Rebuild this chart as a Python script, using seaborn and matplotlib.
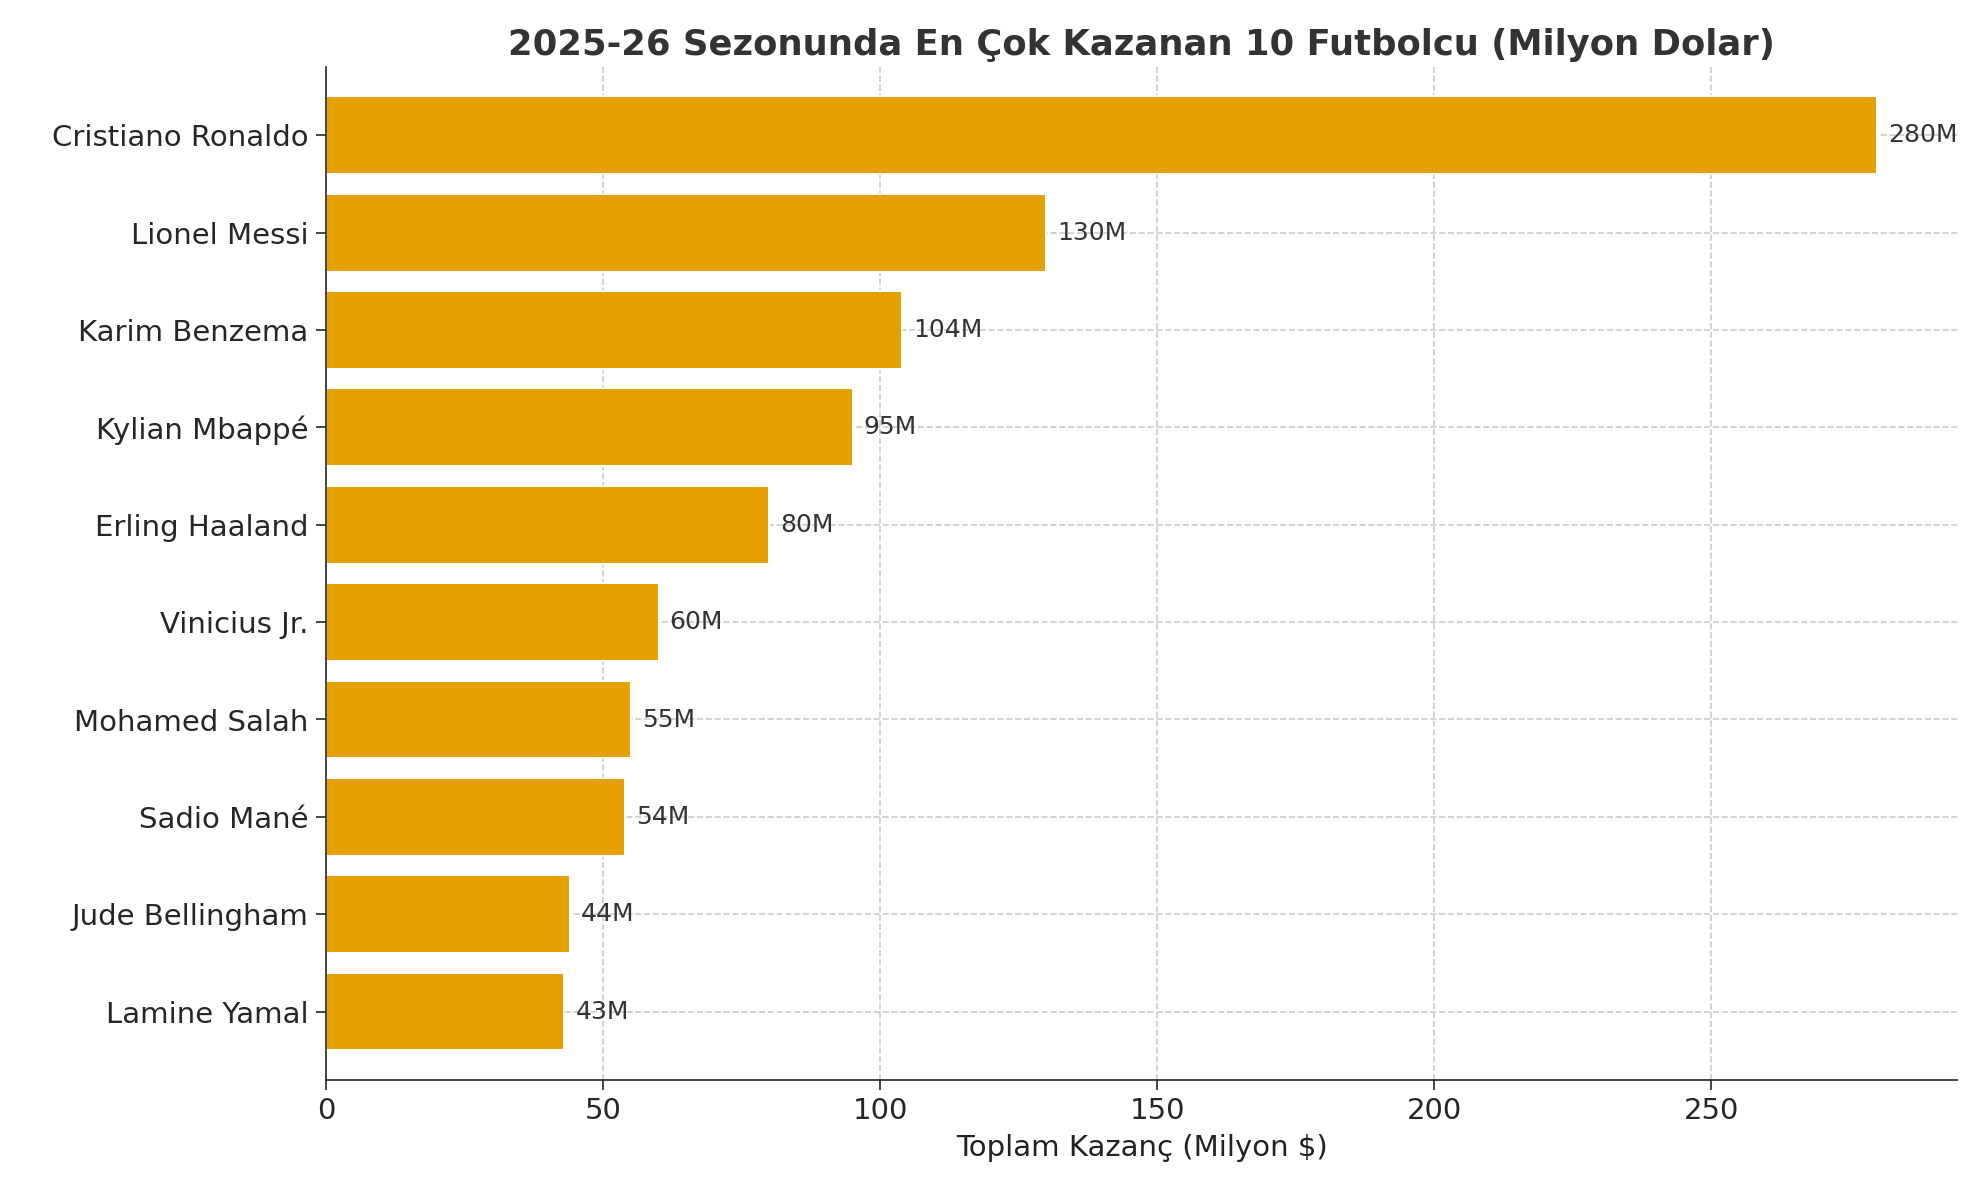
import matplotlib
matplotlib.use("Agg")
import matplotlib.pyplot as plt
import seaborn as sns
import pandas as pd

players = ["Cristiano Ronaldo", "Lionel Messi", "Karim Benzema", "Kylian Mbappé", "Erling Haaland",
           "Vinicius Jr.", "Mohamed Salah", "Sadio Mané", "Jude Bellingham", "Lamine Yamal"]
earnings = [280, 130, 104, 95, 80, 60, 55, 54, 44, 43]
labels = ["280M", "130M", "104M", "95M", "80M", "60M", "55M", "54M", "44M", "43M"]

sns.set_style("white")
plt.rcParams['font.family'] = ['DejaVu Sans']
df = pd.DataFrame({"player": players, "earn": earnings})
fig = plt.figure(figsize=(13.18, 7.867), dpi=150)
ax = fig.add_axes([0.165, 0.085, 0.825, 0.858])
sns.barplot(data=df, y="player", x="earn", orient="h", color="#E5A000", saturation=1, width=0.8, ax=ax)
ax.set_axisbelow(True)
ax.grid(True, linestyle="--", color="#cccccc", linewidth=0.8)
for i, (v, l) in enumerate(zip(earnings, labels)):
    ax.text(v + 2, i, l, va="center", ha="left", fontsize=12, color="#333333")
ax.set_xlim(0, 294.4)
ax.set_ylim(9.7, -0.7)
sns.despine(ax=ax)
ax.set_ylabel("")
ax.set_xlabel("Toplam Kazanç (Milyon $)", fontsize=14, color="#222222")
ax.tick_params(axis="both", labelsize=14, length=5, left=True, bottom=True)
ax.set_title("2025-26 Sezonunda En Çok Kazanan 10 Futbolcu (Milyon Dolar)", fontsize=17,
             fontweight="bold", color="#333333")
fig.savefig("out.png", dpi=150)
